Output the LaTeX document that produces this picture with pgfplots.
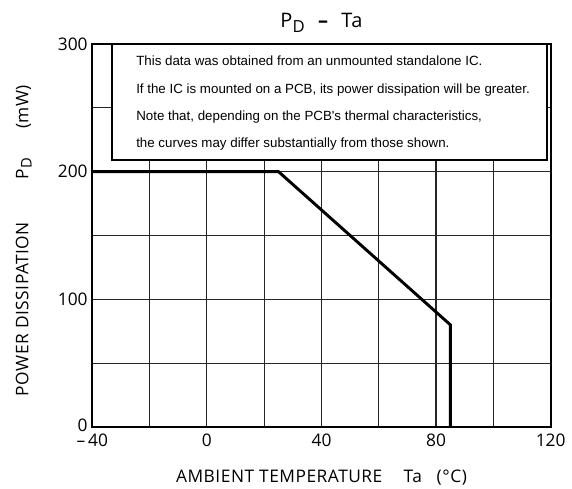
\documentclass[border=0pt]{standalone}
\usepackage{pgfplots}
\pgfplotsset{compat=1.18}
\usepackage{fontspec}
\setmainfont{Open Sans}
\newfontfamily\lblfont[LetterSpace=3]{Open Sans}
\newfontfamily\arialfont{Liberation Sans}
\begin{document}
\begin{tikzpicture}[x=0.75pt,y=0.75pt]
\path[use as bounding box] (-92.3,-62) rectangle (479.7,427);
\begin{axis}[
  at={(0pt,0pt)}, anchor=south west,
  scale only axis,
  width=343.8pt, height=287.25pt,
  xmin=-40, xmax=120, ymin=0, ymax=300,
  xtick={-40,0,40,80,120},
  xticklabels={{\textendash\,40},0,40,80,120},
  minor xtick={-20,20,60,100},
  ytick={0,100,200,300},
  yticklabels={\raisebox{3pt}{0},100,200,300},
  minor ytick={50,150,250},
  grid=both,
  grid style={line width=0.9pt, black!85},
  minor grid style={line width=0.9pt, black!85},
  major tick length=0pt, minor tick length=0pt,
  axis line style={line width=1.5pt},
  tick label style={font=\fontsize{13}{15}\selectfont},
  /pgf/number format/assume math mode=true,
  xticklabel style={yshift=-2pt},
  clip=false,
]
\addplot[black, line width=2.2pt, line join=miter] coordinates {(-40,200) (25,200) (85,80) (85,0)};
\draw[line width=1.4pt, fill=white] (axis cs:-33.2,209) rectangle (axis cs:118.6,300);
\end{axis}
% box text
\begin{scope}[font=\arialfont\fontsize{10}{11}\selectfont]
\node[anchor=base west, inner sep=0] at (43.7,427-66) {This data was obtained from an unmounted standalone IC.};
\node[anchor=base west, inner sep=0] at (43.7,427-93.5) {If the IC is mounted on a PCB, its power dissipation will be greater.};
\node[anchor=base west, inner sep=0] at (43.7,427-121) {Note that, depending on the PCB's thermal characteristics,};
\node[anchor=base west, inner sep=0] at (43.7,427-148) {the curves may differ substantially from those shown.};
\end{scope}
% title
\node[anchor=base, inner sep=0, font=\lblfont\fontsize{15}{18}\selectfont] at (229.2,427-28) {P\raisebox{-3.5pt}{\fontsize{12.5}{14}\selectfont D}\hspace{10pt}{\bfseries\textendash}\hspace{10pt}Ta};
% x label
\node[anchor=base, inner sep=0, font=\lblfont\fontsize{13}{15}\selectfont] at (229.2,-56) {AMBIENT TEMPERATURE\hspace{16pt}Ta\hspace{11pt}(°C)};
% y label
\node[anchor=base, rotate=90, inner sep=0, font=\lblfont\fontsize{13}{15}\selectfont] at (-64,427-240.5) {POWER DISSIPATION\hspace{32pt}P\raisebox{-2.5pt}{\fontsize{11}{13}\selectfont D}\hspace{22pt}(mW)};
\end{tikzpicture}
\end{document}
